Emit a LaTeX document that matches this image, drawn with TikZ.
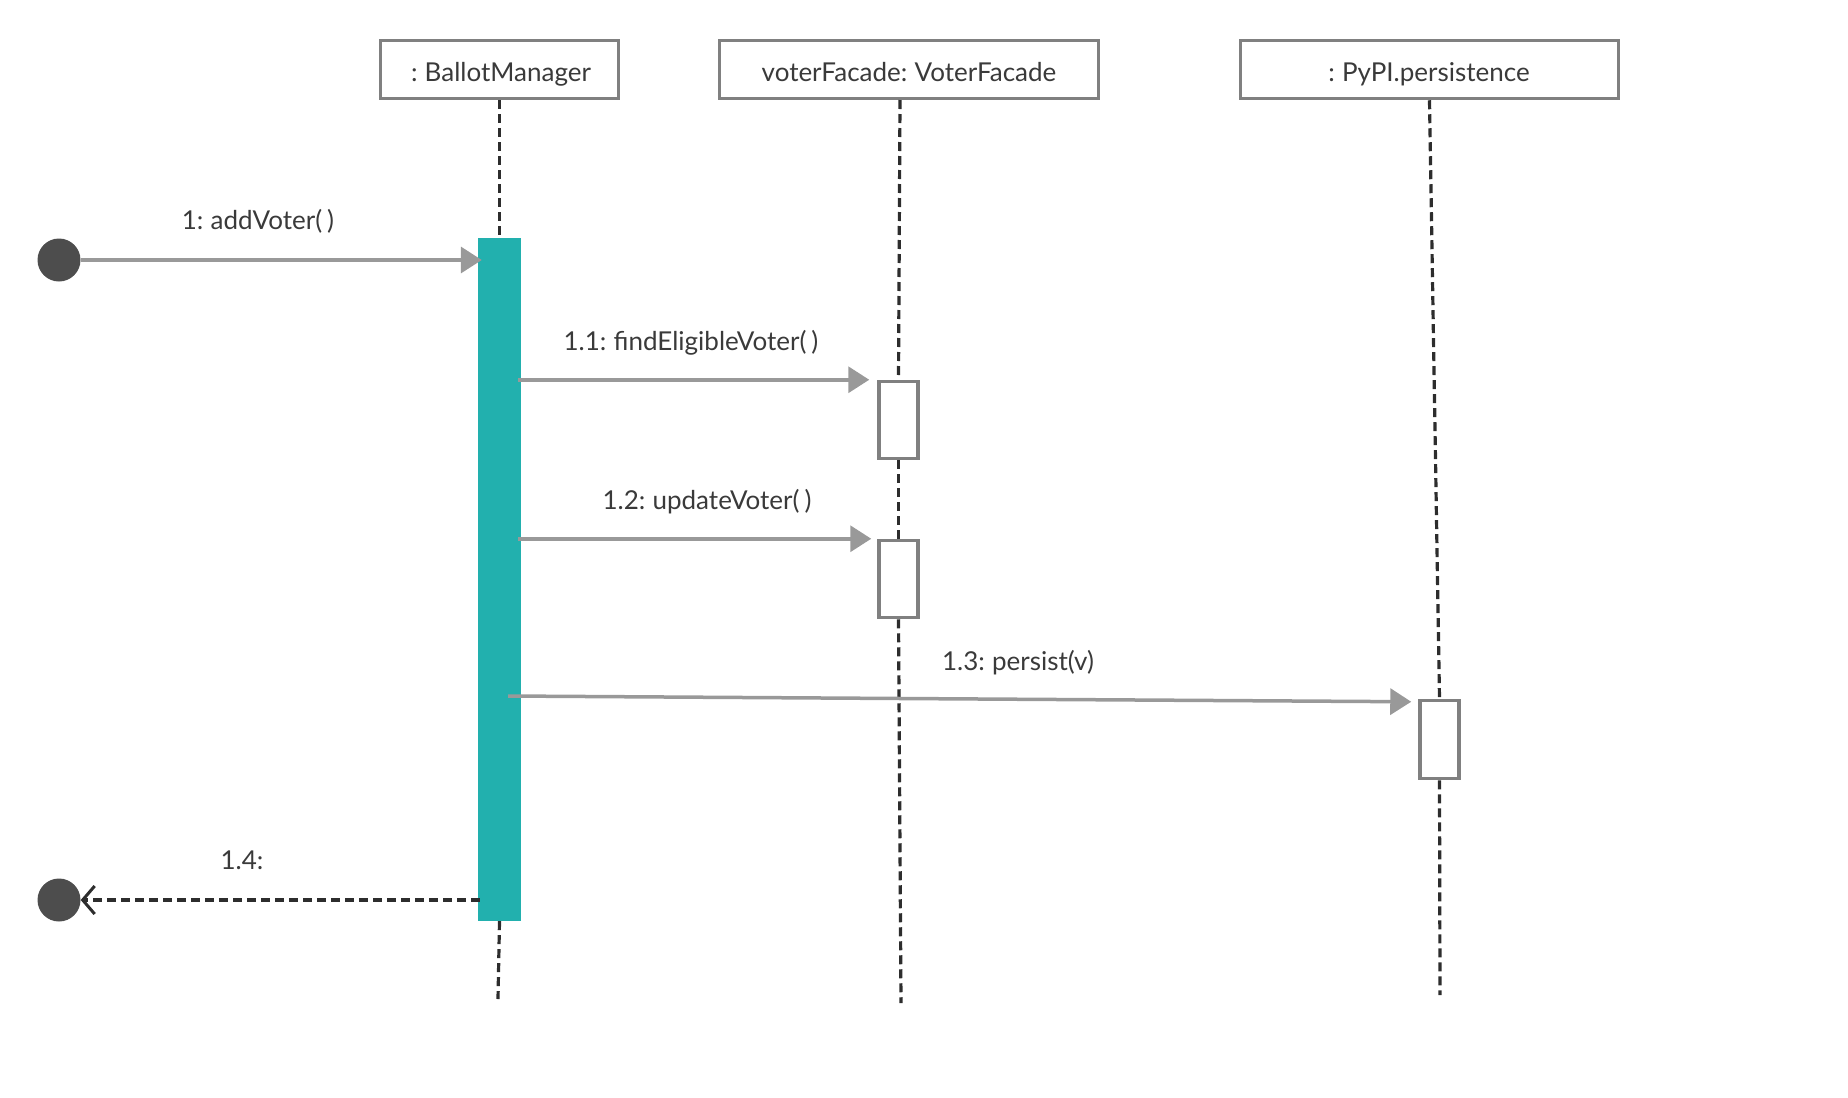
\documentclass[tikz,border=0pt]{standalone}
\usepackage{fontspec}
\setmainfont[WordSpace=0.75]{Lato}
\usetikzlibrary{arrows.meta}
\definecolor{barteal}{RGB}{34,176,174}
\definecolor{boxgray}{RGB}{128,128,128}
\definecolor{msggray}{RGB}{153,153,153}
\definecolor{lifedark}{RGB}{45,45,45}
\definecolor{dotdark}{RGB}{77,77,77}
\definecolor{txt}{RGB}{58,58,58}
\begin{document}
\begin{tikzpicture}[x=1pt,y=-1pt,
  lbl/.style={text=txt, font=\fontsize{26}{31}\selectfont, inner sep=0pt},
  head/.style={draw=boxgray, line width=3.5pt, fill=white, inner sep=0pt, minimum height=58pt, lbl},
  actbox/.style={draw=boxgray, line width=3.5pt, fill=white, inner sep=0pt, minimum width=39pt},
  life/.style={draw=lifedark, line width=3.2pt, dash pattern=on 9pt off 5pt},
  msg/.style={draw=msggray, line width=3.5pt, -{Triangle[length=21pt,width=26pt]}},
  ret/.style={draw=lifedark, line width=3.2pt, dash pattern=on 9pt off 5pt, -{Straight Barb[length=12pt,width=28pt,line width=3pt]}},
  endpt/.style={circle, fill=dotdark, minimum size=43pt, inner sep=0pt}]
\useasboundingbox (0,0) rectangle (1848,1098);

% heads
\node[head, minimum width=238pt] (bm) at (499.5,69.5) {};
\node[head, minimum width=379pt] (vf) at (909,69.5) {};
\node[head, minimum width=378pt] (pp) at (1429.5,69.5) {};
\node[lbl, anchor=base] (bmt) at (501,81) {: BallotManager};
\node[lbl, anchor=base] (vft) at (909,81) {voterFacade: VoterFacade};
\node[lbl, anchor=base] (ppt) at (1429,81) {: PyPI.persistence};

% end coordinates of lifelines
\coordinate (bmend) at (498,999);
\coordinate (vfend) at (901,1003);
\coordinate (ppend) at (1440,995);
\coordinate (vftop) at (900,100);

% activation boxes
\node[actbox, minimum height=77pt] (vf1) at (898.5,420) {};
\node[actbox, minimum height=77pt] (vf2) at (898.5,579) {};
\node[actbox, minimum height=78pt] (pp1) at (1439.5,739.5) {};
\node[fill=barteal, minimum width=43pt, minimum height=683pt, inner sep=0pt] (act) at (499.5,579.5) {};

% lifelines
\draw[life] (bm.south) -- (act.north);
\draw[life] (act.south) -- (bmend);
\draw[life] (vftop) -- (vf1.north);
\draw[life] (vf1.south) -- (vf2.north);
\draw[life] (vf2.south) -- (vfend);
\draw[life] (pp.south) -- (pp1.north);
\draw[life] (pp1.south) -- (ppend);

% start / end points
\node[endpt] (c1) at (59,260) {};
\node[endpt] (c2) at (59,900) {};

% messages
\draw[msg] (c1.east) -- ([xshift=4pt]act.west |- c1);
\node[lbl, anchor=base] (l1) at (258,229) {1: addVoter( )};

\draw[msg] ([xshift=-3pt]act.east |- vf1.north) -- ([xshift=-8pt]vf1.north west);
\node[lbl, anchor=base] (l11) at (691,350) {1.1: findEligibleVoter( )};

\draw[msg] ([xshift=-3pt]act.east |- vf2.north) -- ([xshift=-6pt]vf2.north west);
\node[lbl, anchor=base] (l12) at (707,509) {1.2: updateVoter( )};

\draw[msg] ([xshift=-13pt,yshift=-116.5pt]act.east) -- ([xshift=-7pt,yshift=-3pt]pp1.north west);
\node[lbl, anchor=base] (l13) at (1018,670) {1.3: persist(v)};

\draw[ret] ([xshift=2pt]act.west |- c2) -- (c2.east);
\node[lbl, anchor=base] (l14) at (242,869) {1.4:};
\end{tikzpicture}
\end{document}
